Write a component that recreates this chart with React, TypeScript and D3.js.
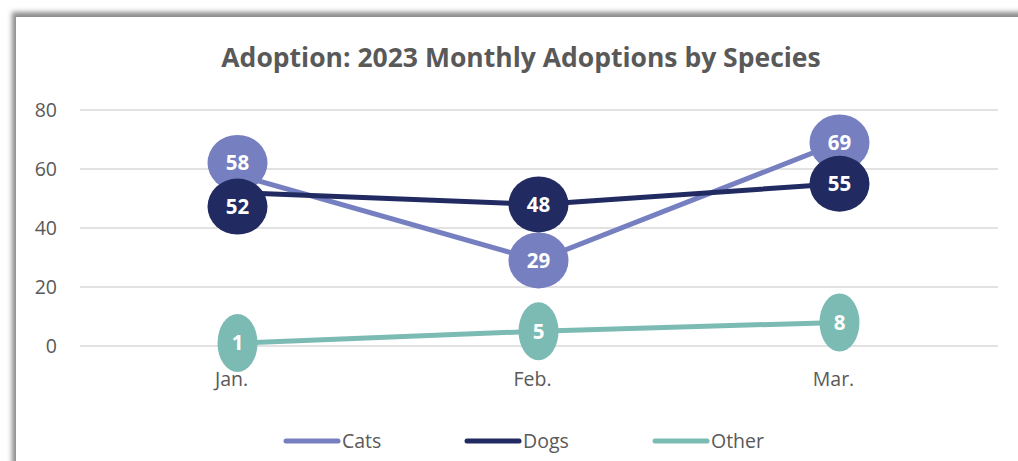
import React from 'react';
import * as d3 from 'd3';

const months = ['Jan.', 'Feb.', 'Mar.'];
const cats = [58, 29, 69];
const dogs = [52, 48, 55];
const other = [1, 5, 8];
const yTicks = [0, 20, 40, 60, 80];

const seriesList = [
  { name: 'Cats', values: cats, color: '#7680C1' },
  { name: 'Dogs', values: dogs, color: '#212B62' },
  { name: 'Other', values: other, color: '#7CBBB3' },
];

const W = 1018;
const H = 461;
const font = '"Open Sans", Lato, sans-serif';

export default function App() {
  const x = d3.scalePoint<string>().domain(months).range([87, 990]).padding(0.5);
  const y = d3.scaleLinear().domain([0, 80]).range([346, 110]);
  const line = d3.line<number>()
    .x((_, i) => x(months[i])!)
    .y(d => y(d));

  // push overlapping labels apart: higher value goes up, lower goes down
  const labelDy = (si: number, i: number) => {
    const v = seriesList[si].values[i];
    let dy = 0;
    seriesList.forEach((s, sj) => {
      if (sj === si) return;
      const o = s.values[i];
      if (Math.abs(y(o) - y(v)) < 35) dy += v >= o ? -12 : 14;
    });
    return dy;
  };

  const legendX = [284, 465, 653];

  return (
    <svg width={W} height={H} style={{ position: 'absolute', left: 0, top: 0, background: '#fff' }}>
      <defs>
        <filter id="sh" x="-5%" y="-5%" width="110%" height="110%">
          <feGaussianBlur stdDeviation="2.5" />
        </filter>
      </defs>
      <rect x={12} y={12} width={W + 20} height={H + 20} fill="#8c8c8c" filter="url(#sh)" />
      <rect x={16} y={17} width={W} height={H} fill="#fff" />

      <text x={521} y={67} textAnchor="middle" fontFamily={font} fontWeight="bold" fontSize={26.5} fill="#595959">
        Adoption: 2023 Monthly Adoptions by Species
      </text>

      {yTicks.map(t => (
        <g key={t}>
          <line x1={80} x2={998} y1={y(t)} y2={y(t)} stroke="#d9d9d9" strokeWidth={1.3} />
          <text x={57} y={y(t)} dy="0.35em" textAnchor="end" fontFamily={font} fontSize={19.5} fill="#595959">{t}</text>
        </g>
      ))}

      {months.map(m => (
        <text key={m} x={x(m)! - 6} y={386} textAnchor="middle" fontFamily={font} fontSize={19.5} fill="#595959">{m}</text>
      ))}

      {seriesList.map(s => (
        <path key={s.name} d={line(s.values)!} fill="none" stroke={s.color} strokeWidth={5} strokeLinecap="round" strokeLinejoin="round" />
      ))}

      {seriesList.map((s, si) => (
        <g key={s.name + 'lbl'}>
          {s.values.map((v, i) => {
            const cx = x(months[i])!;
            const cy = y(v) + labelDy(si, i);
            const one = String(v).length === 1;
            return (
              <g key={i}>
                <ellipse cx={cx} cy={cy} rx={one ? 20 : 30} ry={one ? 29 : 28} fill={s.color} />
                <text x={cx} y={cy} dy="0.36em" textAnchor="middle" fontFamily={font} fontWeight="bold" fontSize={20.5} fill="#fff">{v}</text>
              </g>
            );
          })}
        </g>
      ))}

      {seriesList.map((s, i) => (
        <g key={s.name + 'leg'}>
          <line x1={legendX[i] + 2} x2={legendX[i] + 54} y1={441} y2={441} stroke={s.color} strokeWidth={5} strokeLinecap="round" />
          <text x={legendX[i] + 58} y={441} dy="0.36em" fontFamily={font} fontSize={19.5} fill="#595959">{s.name}</text>
        </g>
      ))}
    </svg>
  );
}
